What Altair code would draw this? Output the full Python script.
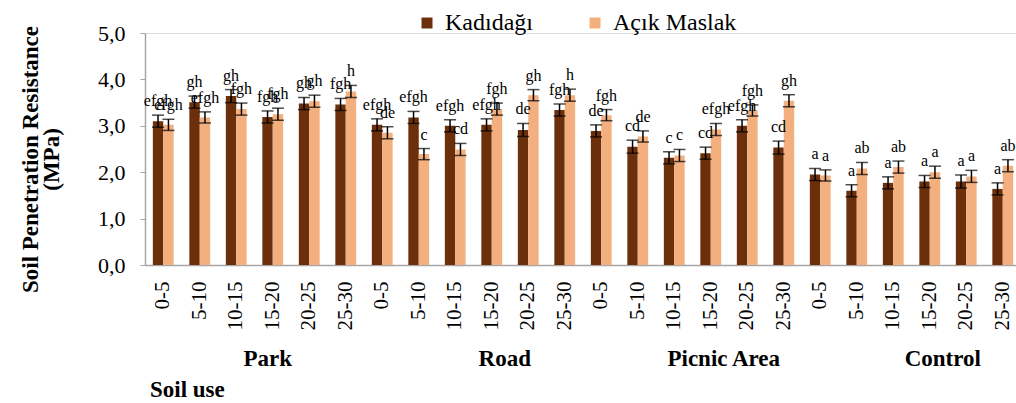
import altair as alt
import pandas as pd

# Categories
uses = ["Park", "Road", "Picnic Area", "Control"]
depths = ["0-5", "5-10", "10-15", "15-20", "20-25", "25-30"]
sites = ["Kadıdağı", "Açık Maslak"]
site_colors = ["#6B2F0B", "#F4AF7F"]

# Soil penetration resistance (MPa), per soil use and depth (cm)
kadidagi = [3.10, 3.51, 3.64, 3.19, 3.48, 3.46,
            3.02, 3.18, 3.00, 3.02, 2.91, 3.34,
            2.89, 2.55, 2.31, 2.41, 3.00, 2.53,
            1.95, 1.60, 1.77, 1.80, 1.80, 1.64]
acik_maslak = [3.02, 3.18, 3.36, 3.25, 3.53, 3.74,
               2.85, 2.39, 2.49, 3.36, 3.66, 3.66,
               3.23, 2.77, 2.36, 2.92, 3.33, 3.54,
               1.93, 2.08, 2.11, 2.00, 1.91, 2.14]

# Standard errors
kadidagi_se = [0.13, 0.13, 0.14, 0.13, 0.13, 0.13,
               0.13, 0.13, 0.13, 0.13, 0.14, 0.13,
               0.13, 0.14, 0.13, 0.13, 0.13, 0.14,
               0.13, 0.13, 0.13, 0.13, 0.14, 0.13]
acik_maslak_se = [0.12, 0.12, 0.13, 0.13, 0.13, 0.13,
                  0.13, 0.12, 0.13, 0.13, 0.12, 0.13,
                  0.12, 0.12, 0.13, 0.13, 0.12, 0.13,
                  0.12, 0.13, 0.13, 0.13, 0.13, 0.13]

# Significance letters
kadidagi_letters = ["efgh", "gh", "gh", "fgh", "gh", "fgh",
                    "efgh", "efgh", "efgh", "efgh", "de", "fgh",
                    "de", "cd", "c", "cd", "efgh", "cd",
                    "a", "a", "a", "a", "a", "a"]
acik_maslak_letters = ["efgh", "efgh", "fgh", "fgh", "gh", "h",
                       "de", "c", "cd", "fgh", "gh", "h",
                       "fgh", "de", "c", "efgh", "fgh", "gh",
                       "a", "ab", "ab", "a", "a", "ab"]

keys = [f"{u}|{d}" for u in uses for d in depths]

rows = []
for site, vals, ses, lets in [
    (sites[0], kadidagi, kadidagi_se, kadidagi_letters),
    (sites[1], acik_maslak, acik_maslak_se, acik_maslak_letters),
]:
    for k, v, s, l in zip(keys, vals, ses, lets):
        rows.append({"key": k, "site": site, "value": v,
                     "lo": v - s, "hi": v + s, "letter": l})
df = pd.DataFrame(rows)

# Group captions sit under the fourth depth of each soil use
groups_df = pd.DataFrame({"key": [f"{u}|{depths[3]}" for u in uses], "use": uses})

FONT = "Liberation Serif, Times New Roman, serif"

x_enc = alt.X(
    "key:N", sort=keys,
    scale=alt.Scale(range=[0, 876], paddingInner=0.43, paddingOuter=0.215),
    axis=alt.Axis(
        title=None, labelExpr="split(datum.value, '|')[1]", labelAngle=-90,
        ticks=False, labelPadding=16, labelFontSize=21, labelFont=FONT,
        labelColor="black", domainColor="#A6A6A6", domainWidth=1.5,
        grid=False, labelOverlap=False,
    ),
)
xoff = alt.XOffset("site:N", sort=sites, scale=alt.Scale(paddingInner=0, paddingOuter=0))

y_scale = alt.Scale(domain=[0, 5])

bars = alt.Chart(df).mark_bar().encode(
    x=x_enc,
    xOffset=xoff,
    y=alt.Y(
        "value:Q", scale=y_scale,
        axis=alt.Axis(
            values=[0, 1, 2, 3, 4, 5],
            labelExpr="replace(format(datum.value, '.1f'), '.', ',')",
            tickSize=5, tickColor="#A6A6A6", domainColor="#A6A6A6", domainWidth=1.5,
            labelPadding=15, labelFontSize=22, labelFont=FONT, labelColor="black",
            grid=False,
            title=["Soil Penetration Resistance", "(MPa)"],
            titleFont=FONT, titleFontSize=23, titleFontWeight="bold",
            titleColor="black", titleAngle=270, titleX=-108, titleY=126,
            titleAlign="center", titleBaseline="alphabetic", titleLineHeight=21,
        ),
    ),
    color=alt.Color(
        "site:N", sort=sites,
        scale=alt.Scale(domain=sites, range=site_colors),
        legend=alt.Legend(
            orient="none", legendX=270, legendY=-22, direction="horizontal",
            title=None, symbolType="square", symbolSize=121, symbolStrokeWidth=0,
            labelFontSize=24, labelFont=FONT, labelColor="black",
            labelOffset=6, columnPadding=50, padding=0,
        ),
    ),
)

err_line = alt.Chart(df).mark_rule(color="black", strokeWidth=1.5).encode(
    x=alt.X("key:N", sort=keys), xOffset=xoff,
    y=alt.Y("lo:Q", scale=y_scale), y2="hi:Q",
)
err_lo = alt.Chart(df).mark_tick(color="black", size=12, thickness=1.5).encode(
    x=alt.X("key:N", sort=keys), xOffset=xoff,
    y=alt.Y("lo:Q", scale=y_scale),
)
err_hi = alt.Chart(df).mark_tick(color="black", size=12, thickness=1.5).encode(
    x=alt.X("key:N", sort=keys), xOffset=xoff,
    y=alt.Y("hi:Q", scale=y_scale),
)

letters = alt.Chart(df).mark_text(
    baseline="alphabetic", dy=-9, fontSize=16, font=FONT, color="black"
).encode(
    x=alt.X("key:N", sort=keys), xOffset=xoff,
    y=alt.Y("hi:Q", scale=y_scale),
    text="letter:N",
)

# Soil-use captions below the depth labels
group_park = alt.Chart(groups_df).transform_filter(
    alt.datum.use == "Park"
).mark_text(
    fontSize=23, font=FONT, fontWeight="bold", color="black",
    baseline="alphabetic", dx=-5,
).encode(
    x=alt.X("key:N", sort=keys),
    y=alt.value(333),
    text="use:N",
)
group_rest = alt.Chart(groups_df).transform_filter(
    alt.datum.use != "Park"
).mark_text(
    fontSize=23, font=FONT, fontWeight="bold", color="black",
    baseline="alphabetic", dx=13,
).encode(
    x=alt.X("key:N", sort=keys),
    y=alt.value(333),
    text="use:N",
)

axis_caption = alt.Chart(pd.DataFrame({"t": ["Soil use"]})).mark_text(
    fontSize=23, font=FONT, fontWeight="bold", color="black",
    baseline="alphabetic", align="left",
).encode(x=alt.value(5), y=alt.value(364), text="t:N")

chart = alt.layer(
    bars, err_line, err_lo, err_hi, letters, group_park, group_rest, axis_caption
).properties(
    width=871, height=232,
    autosize=alt.AutoSizeParams(type="none"),
    padding={"left": 145, "top": 33, "right": 0, "bottom": 138},
).configure_view(
    stroke=None
).configure_axis(
    labelFont=FONT, titleFont=FONT
).configure_legend(
    labelFont=FONT
).configure_text(
    font=FONT
).configure(background="white")

chart.save("out.html", embed_options={"renderer": "svg", "actions": False})
